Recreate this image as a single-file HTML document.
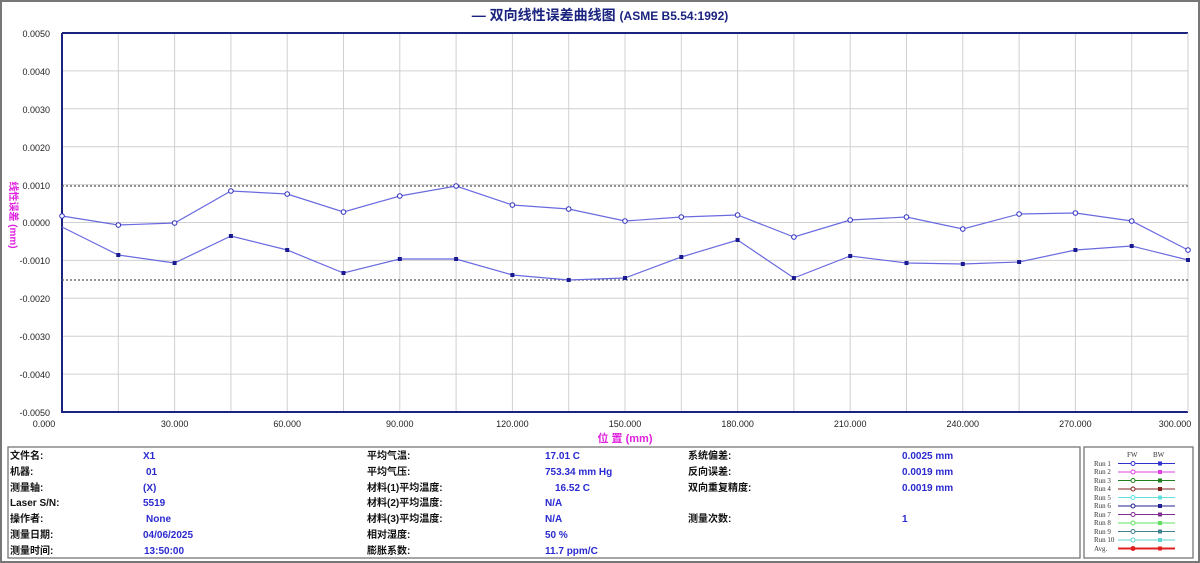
<!DOCTYPE html>
<html><head><meta charset="utf-8"><style>
body{margin:0;background:#fff;}
svg{display:block;font-family:"Liberation Sans","Noto Sans CJK SC",sans-serif;}
</style></head><body>
<svg width="1200" height="563" viewBox="0 0 1200 563" xmlns="http://www.w3.org/2000/svg">
<rect x="1" y="1" width="1198" height="561" fill="#fff" stroke="#777" stroke-width="2"/>
<text x="600" y="20" text-anchor="middle" font-size="14" font-weight="bold" fill="#1a237e">— 双向线性误差曲线图 <tspan font-size="12">(ASME B5.54:1992)</tspan></text>
<g stroke="#d0d0d0" stroke-width="1">
<line x1="118.3" y1="33" x2="118.3" y2="412"/><line x1="174.6" y1="33" x2="174.6" y2="412"/><line x1="230.9" y1="33" x2="230.9" y2="412"/><line x1="287.2" y1="33" x2="287.2" y2="412"/><line x1="343.5" y1="33" x2="343.5" y2="412"/><line x1="399.8" y1="33" x2="399.8" y2="412"/><line x1="456.1" y1="33" x2="456.1" y2="412"/><line x1="512.4" y1="33" x2="512.4" y2="412"/><line x1="568.7" y1="33" x2="568.7" y2="412"/><line x1="625" y1="33" x2="625" y2="412"/><line x1="681.3" y1="33" x2="681.3" y2="412"/><line x1="737.6" y1="33" x2="737.6" y2="412"/><line x1="793.9" y1="33" x2="793.9" y2="412"/><line x1="850.2" y1="33" x2="850.2" y2="412"/><line x1="906.5" y1="33" x2="906.5" y2="412"/><line x1="962.8" y1="33" x2="962.8" y2="412"/><line x1="1019.1" y1="33" x2="1019.1" y2="412"/><line x1="1075.4" y1="33" x2="1075.4" y2="412"/><line x1="1131.7" y1="33" x2="1131.7" y2="412"/>
<line x1="62" y1="70.9" x2="1188" y2="70.9"/><line x1="62" y1="108.8" x2="1188" y2="108.8"/><line x1="62" y1="146.7" x2="1188" y2="146.7"/><line x1="62" y1="184.6" x2="1188" y2="184.6"/><line x1="62" y1="222.5" x2="1188" y2="222.5"/><line x1="62" y1="260.4" x2="1188" y2="260.4"/><line x1="62" y1="298.3" x2="1188" y2="298.3"/><line x1="62" y1="336.2" x2="1188" y2="336.2"/><line x1="62" y1="374.1" x2="1188" y2="374.1"/>
</g>
<path d="M62 33H1188M62 33V412H1188" fill="none" stroke="#1a237e" stroke-width="2"/>
<line x1="1188" y1="33" x2="1188" y2="412" stroke="#ccc"/>
<g stroke="#555" stroke-width="1.3" stroke-dasharray="2,2">
<line x1="62" y1="186" x2="1188" y2="186"/><line x1="62" y1="280" x2="1188" y2="280"/>
</g>
<g font-size="9" fill="#222" text-anchor="end">
<text x="50" y="37">0.0050</text><text x="50" y="75">0.0040</text><text x="50" y="113">0.0030</text><text x="50" y="151">0.0020</text><text x="50" y="189">0.0010</text><text x="50" y="226">0.0000</text><text x="50" y="264">-0.0010</text><text x="50" y="302">-0.0020</text><text x="50" y="340">-0.0030</text><text x="50" y="378">-0.0040</text><text x="50" y="416">-0.0050</text>
</g>
<g font-size="9" fill="#222" text-anchor="middle">
<text x="44" y="427">0.000</text><text x="174.6" y="427">30.000</text><text x="287.2" y="427">60.000</text><text x="399.8" y="427">90.000</text><text x="512.4" y="427">120.000</text><text x="625" y="427">150.000</text><text x="737.6" y="427">180.000</text><text x="850.2" y="427">210.000</text><text x="962.8" y="427">240.000</text><text x="1075.4" y="427">270.000</text><text x="1175" y="427">300.000</text>
</g>
<text x="625" y="442" text-anchor="middle" font-size="11" font-weight="bold" fill="#e020e0">位 置 (mm)</text>
<text transform="translate(10,215) rotate(90)" text-anchor="middle" font-size="10" font-weight="bold" fill="#e020e0">线性误差 (mm)</text>
<polyline fill="none" stroke="#6a6ae0" stroke-width="1.2" points="62,216 118.3,225 174.6,223 230.9,191 287.2,194 343.5,212 399.8,196 456.1,186 512.4,205 568.7,209 625,221 681.3,217 737.6,215 793.9,237 850.2,220 906.5,217 962.8,229 1019.1,214 1075.4,213 1131.7,221 1188,250"/>
<polyline fill="none" stroke="#6a6ae0" stroke-width="1.2" points="62,227 118.3,255 174.6,263 230.9,236 287.2,250 343.5,273 399.8,259 456.1,259 512.4,275 568.7,280 625,278 681.3,257 737.6,240 793.9,278 850.2,256 906.5,263 962.8,264 1019.1,262 1075.4,250 1131.7,246 1188,260"/>
<g fill="#fff" stroke="#3030c0" stroke-width="1">
<circle cx="62" cy="216" r="2.3"/><circle cx="118.3" cy="225" r="2.3"/><circle cx="174.6" cy="223" r="2.3"/><circle cx="230.9" cy="191" r="2.3"/><circle cx="287.2" cy="194" r="2.3"/><circle cx="343.5" cy="212" r="2.3"/><circle cx="399.8" cy="196" r="2.3"/><circle cx="456.1" cy="186" r="2.3"/><circle cx="512.4" cy="205" r="2.3"/><circle cx="568.7" cy="209" r="2.3"/><circle cx="625" cy="221" r="2.3"/><circle cx="681.3" cy="217" r="2.3"/><circle cx="737.6" cy="215" r="2.3"/><circle cx="793.9" cy="237" r="2.3"/><circle cx="850.2" cy="220" r="2.3"/><circle cx="906.5" cy="217" r="2.3"/><circle cx="962.8" cy="229" r="2.3"/><circle cx="1019.1" cy="214" r="2.3"/><circle cx="1075.4" cy="213" r="2.3"/><circle cx="1131.7" cy="221" r="2.3"/><circle cx="1188" cy="250" r="2.3"/>
</g>
<g fill="#1a1a90">
<rect x="116.3" y="253" width="4" height="4"/><rect x="172.6" y="261" width="4" height="4"/><rect x="228.9" y="234" width="4" height="4"/><rect x="285.2" y="248" width="4" height="4"/><rect x="341.5" y="271" width="4" height="4"/><rect x="397.8" y="257" width="4" height="4"/><rect x="454.1" y="257" width="4" height="4"/><rect x="510.4" y="273" width="4" height="4"/><rect x="566.7" y="278" width="4" height="4"/><rect x="623" y="276" width="4" height="4"/><rect x="679.3" y="255" width="4" height="4"/><rect x="735.6" y="238" width="4" height="4"/><rect x="791.9" y="276" width="4" height="4"/><rect x="848.2" y="254" width="4" height="4"/><rect x="904.5" y="261" width="4" height="4"/><rect x="960.8" y="262" width="4" height="4"/><rect x="1017.1" y="260" width="4" height="4"/><rect x="1073.4" y="248" width="4" height="4"/><rect x="1129.7" y="244" width="4" height="4"/><rect x="1186" y="258" width="4" height="4"/>
</g>
<rect x="8" y="447" width="1072" height="111" fill="none" stroke="#777" stroke-width="1.3"/>
<rect x="1084" y="447" width="109" height="111" fill="none" stroke="#777" stroke-width="1.3"/>
<g font-size="10" font-weight="bold" fill="#111">
<text x="10" y="459">文件名:</text><text x="10" y="475">机器:</text><text x="10" y="491">测量轴:</text><text x="10" y="506">Laser S/N:</text><text x="10" y="522">操作者:</text><text x="10" y="538">测量日期:</text><text x="10" y="554">测量时间:</text>
<text x="367" y="459">平均气温:</text><text x="367" y="475">平均气压:</text><text x="367" y="491">材料(1)平均温度:</text><text x="367" y="506">材料(2)平均温度:</text><text x="367" y="522">材料(3)平均温度:</text><text x="367" y="538">相对湿度:</text><text x="367" y="554">膨胀系数:</text>
<text x="688" y="459">系统偏差:</text><text x="688" y="475">反向误差:</text><text x="688" y="491">双向重复精度:</text><text x="688" y="522">测量次数:</text>
</g>
<g font-size="10" font-weight="bold" fill="#2a2ad0">
<text x="143" y="459">X1</text><text x="146" y="475">01</text><text x="143" y="491">(X)</text><text x="143" y="506">5519</text><text x="146" y="522">None</text><text x="143" y="538">04/06/2025</text><text x="144" y="554">13:50:00</text>
<text x="545" y="459">17.01 C</text><text x="545" y="475">753.34 mm Hg</text><text x="555" y="491">16.52 C</text><text x="545" y="506">N/A</text><text x="545" y="522">N/A</text><text x="545" y="538">50 %</text><text x="545" y="554">11.7 ppm/C</text>
<text x="902" y="459">0.0025 mm</text><text x="902" y="475">0.0019 mm</text><text x="902" y="491">0.0019 mm</text><text x="902" y="522">1</text>
</g>
<g font-family="Liberation Serif,serif" font-size="7" fill="#333">
<text x="1127" y="457">FW</text><text x="1153" y="457">BW</text>
<text x="1094" y="466">Run 1</text><text x="1094" y="474">Run 2</text><text x="1094" y="483">Run 3</text><text x="1094" y="491">Run 4</text><text x="1094" y="500">Run 5</text><text x="1094" y="508">Run 6</text><text x="1094" y="517">Run 7</text><text x="1094" y="525">Run 8</text><text x="1094" y="534">Run 9</text><text x="1094" y="542">Run 10</text><text x="1094" y="551">Avg.</text>
</g>
<g stroke-width="1">
<g stroke="#3030d0"><line x1="1118" y1="463.5" x2="1175" y2="463.5"/></g>
<g stroke="#e040e0"><line x1="1118" y1="472" x2="1175" y2="472"/></g>
<g stroke="#208020"><line x1="1118" y1="480.5" x2="1175" y2="480.5"/></g>
<g stroke="#802020"><line x1="1118" y1="489" x2="1175" y2="489"/></g>
<g stroke="#60e0e0"><line x1="1118" y1="497.5" x2="1175" y2="497.5"/></g>
<g stroke="#202090"><line x1="1118" y1="506" x2="1175" y2="506"/></g>
<g stroke="#803090"><line x1="1118" y1="514.5" x2="1175" y2="514.5"/></g>
<g stroke="#60e060"><line x1="1118" y1="523" x2="1175" y2="523"/></g>
<g stroke="#408090"><line x1="1118" y1="531.5" x2="1175" y2="531.5"/></g>
<g stroke="#60d0d0"><line x1="1118" y1="540" x2="1175" y2="540"/></g>
<g stroke="#e02020" stroke-width="2"><line x1="1118" y1="548.5" x2="1175" y2="548.5"/></g>
</g>
<g fill="#fff" stroke-width="1">
<circle cx="1133" cy="463.5" r="2" stroke="#3030d0"/><circle cx="1133" cy="472" r="2" stroke="#e040e0"/><circle cx="1133" cy="480.5" r="2" stroke="#208020"/><circle cx="1133" cy="489" r="2" stroke="#802020"/><circle cx="1133" cy="497.5" r="2" stroke="#60e0e0"/><circle cx="1133" cy="506" r="2" stroke="#202090"/><circle cx="1133" cy="514.5" r="2" stroke="#803090"/><circle cx="1133" cy="523" r="2" stroke="#60e060"/><circle cx="1133" cy="531.5" r="2" stroke="#408090"/><circle cx="1133" cy="540" r="2" stroke="#60d0d0"/><circle cx="1133" cy="548.5" r="2" fill="#e02020" stroke="#e02020"/>
</g>
<g>
<rect x="1158" y="461.5" width="4" height="4" fill="#3030d0"/><rect x="1158" y="470" width="4" height="4" fill="#e040e0"/><rect x="1158" y="478.5" width="4" height="4" fill="#208020"/><rect x="1158" y="487" width="4" height="4" fill="#802020"/><rect x="1158" y="495.5" width="4" height="4" fill="#60e0e0"/><rect x="1158" y="504" width="4" height="4" fill="#202090"/><rect x="1158" y="512.5" width="4" height="4" fill="#803090"/><rect x="1158" y="521" width="4" height="4" fill="#60e060"/><rect x="1158" y="529.5" width="4" height="4" fill="#408090"/><rect x="1158" y="538" width="4" height="4" fill="#60d0d0"/><rect x="1158" y="546.5" width="4" height="4" fill="#e02020"/>
</g>
</svg>
</body></html>
